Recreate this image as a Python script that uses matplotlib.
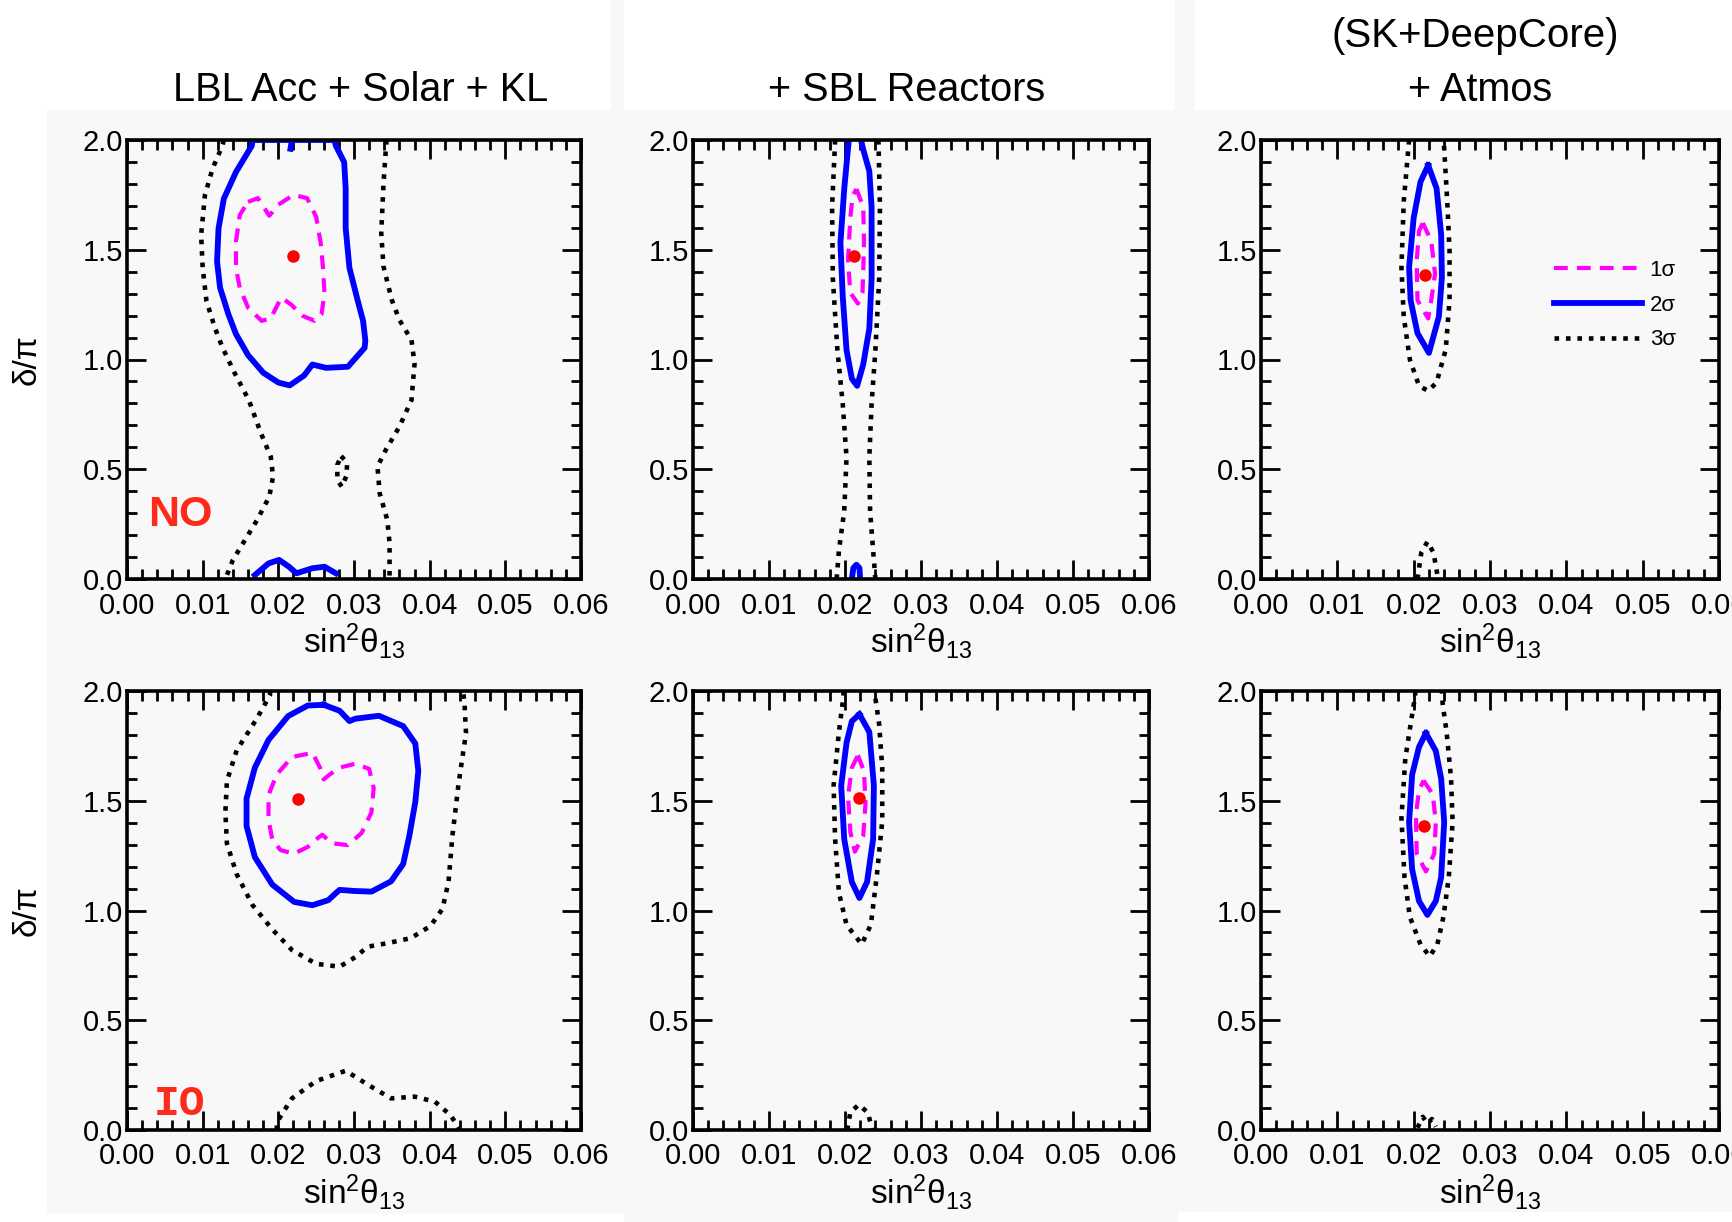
import matplotlib
matplotlib.use("Agg")
import matplotlib.pyplot as plt
from matplotlib.patches import Rectangle
from matplotlib.lines import Line2D
from matplotlib.ticker import MultipleLocator

plt.rcParams["font.family"] = ["Liberation Sans", "DejaVu Sans"]
plt.rcParams["mathtext.fontset"] = "custom"
plt.rcParams["mathtext.rm"] = "Liberation Sans"
plt.rcParams["mathtext.it"] = "Liberation Sans:italic"

# ---- text ----
col_titles = ["LBL Acc + Solar + KL", "+ SBL Reactors", "+ Atmos"]
atmos_note = "(SK+DeepCore)"
row_tags = ["NO", "IO"]
sigma_labels = ["1σ", "2σ", "3σ"]
x_ticks = [0.00, 0.01, 0.02, 0.03, 0.04, 0.05, 0.06]
y_ticks = [0.0, 0.5, 1.0, 1.5, 2.0]

# ---- contours: (sin^2 theta13, delta/pi) ----
# NO, LBL Acc + Solar + KL
no_lbl_best = (0.0219, 1.471)
no_lbl_1s = [(0.0160, 1.718), (0.0173, 1.735), (0.0188, 1.655), (0.0200, 1.705), (0.0220, 1.750),
             (0.0238, 1.735), (0.0250, 1.650), (0.0256, 1.530), (0.0259, 1.420), (0.0261, 1.300),
             (0.0257, 1.205), (0.0248, 1.176), (0.0232, 1.199), (0.0217, 1.250), (0.0204, 1.282),
             (0.0197, 1.236), (0.0190, 1.188), (0.0178, 1.176), (0.0160, 1.236), (0.0149, 1.327),
             (0.0144, 1.417), (0.0144, 1.538), (0.0149, 1.658)]
no_lbl_2s = [(0.0166, 2.0), (0.0165, 1.974), (0.0144, 1.854), (0.0128, 1.733), (0.0121, 1.598),
             (0.0119, 1.447), (0.0123, 1.327), (0.0134, 1.206), (0.0144, 1.116), (0.0160, 1.020),
             (0.0180, 0.940), (0.0200, 0.895), (0.0215, 0.882), (0.0234, 0.927), (0.0245, 0.977),
             (0.0263, 0.962), (0.0292, 0.967), (0.0314, 1.053), (0.0315, 1.086), (0.0312, 1.176),
             (0.0305, 1.267), (0.0294, 1.417), (0.0289, 1.598), (0.0289, 1.779), (0.0287, 1.899),
             (0.0276, 1.974), (0.0274, 2.0)]
no_lbl_2s_top = [(0.0216, 1.96), (0.0218, 2.0)]
no_lbl_2s_bot = [(0.0169, 0.018), (0.0187, 0.071), (0.0201, 0.087), (0.0214, 0.056), (0.0224, 0.026),
                 (0.0245, 0.049), (0.0261, 0.056), (0.0276, 0.026)]
no_lbl_3s_left = [(0.0128, 2.0), (0.0126, 1.974), (0.0113, 1.869), (0.0103, 1.749), (0.0098, 1.568),
                  (0.0100, 1.417), (0.0105, 1.267), (0.0116, 1.146), (0.0126, 1.056), (0.0142, 0.940),
                  (0.0161, 0.815), (0.0177, 0.664), (0.0190, 0.557), (0.0193, 0.466), (0.0188, 0.375),
                  (0.0172, 0.269), (0.0156, 0.178), (0.0140, 0.087), (0.0130, 0.0)]
no_lbl_3s_right = [(0.0343, 2.0), (0.0342, 1.954), (0.0339, 1.803), (0.0336, 1.575), (0.0339, 1.423),
                   (0.0350, 1.271), (0.0360, 1.180), (0.0376, 1.089), (0.0380, 0.980), (0.0378, 0.900),
                   (0.0376, 0.815), (0.0360, 0.694), (0.0342, 0.588), (0.0331, 0.512), (0.0334, 0.390),
                   (0.0344, 0.269), (0.0347, 0.163), (0.0347, 0.0)]
no_lbl_3s_island = [(0.0283, 0.56), (0.0291, 0.53), (0.0290, 0.47), (0.0284, 0.42), (0.0278, 0.45),
                    (0.0278, 0.52)]

# NO, + SBL Reactors
no_sbl_best = (0.0212, 1.472)
no_sbl_1s = [(0.0215, 1.777), (0.0224, 1.695), (0.0225, 1.532), (0.0224, 1.402), (0.0223, 1.304),
             (0.0217, 1.255), (0.0207, 1.304), (0.0204, 1.451), (0.0207, 1.646), (0.0210, 1.744)]
no_sbl_2s = [(0.0205, 2.0), (0.0199, 1.777), (0.0194, 1.532), (0.0197, 1.288), (0.0202, 1.043),
             (0.0209, 0.913), (0.0216, 0.880), (0.0224, 0.978), (0.0232, 1.141), (0.0235, 1.369),
             (0.0235, 1.695), (0.0232, 1.858), (0.0224, 1.956), (0.0221, 2.0)]
no_sbl_2s_bot = [(0.0209, 0.0), (0.0211, 0.05), (0.0215, 0.065), (0.0219, 0.05), (0.0220, 0.0)]
no_sbl_3s_left = [(0.0187, 2.0), (0.0183, 1.695), (0.0184, 1.369), (0.0190, 1.043), (0.0197, 0.799),
                  (0.0202, 0.554), (0.0199, 0.310), (0.0192, 0.130), (0.0189, 0.0)]
no_sbl_3s_right = [(0.0244, 2.0), (0.0246, 1.695), (0.0245, 1.369), (0.0240, 1.043), (0.0235, 0.799),
                   (0.0232, 0.554), (0.0233, 0.310), (0.0237, 0.130), (0.0240, 0.0)]

# NO, + Atmos
no_atm_best = (0.0215, 1.387)
no_atm_1s = [(0.0212, 1.622), (0.0223, 1.540), (0.0228, 1.390), (0.0223, 1.270), (0.0219, 1.187),
             (0.0205, 1.270), (0.0204, 1.450), (0.0207, 1.585)]
no_atm_2s = [(0.0219, 1.885), (0.0230, 1.780), (0.0236, 1.570), (0.0237, 1.375), (0.0233, 1.195),
             (0.0220, 1.030), (0.0205, 1.120), (0.0196, 1.270), (0.0194, 1.420), (0.0200, 1.645),
             (0.0209, 1.810)]
no_atm_3s = [(0.0194, 2.0), (0.0193, 1.96), (0.0187, 1.72), (0.0184, 1.42), (0.0187, 1.195),
             (0.0195, 1.0), (0.0207, 0.88), (0.0219, 0.857), (0.0230, 0.895), (0.0242, 1.045),
             (0.0247, 1.27), (0.0247, 1.495), (0.0244, 1.72), (0.0240, 1.96), (0.0239, 2.0)]
no_atm_3s_bot = [(0.0205, 0.0), (0.0210, 0.12), (0.0218, 0.17), (0.0226, 0.12), (0.0232, 0.0)]

# IO, LBL Acc + Solar + KL
io_lbl_best = (0.0226, 1.510)
io_lbl_1s = [(0.0239, 1.714), (0.0218, 1.699), (0.0198, 1.620), (0.0187, 1.526), (0.0187, 1.416),
             (0.0192, 1.322), (0.0203, 1.275), (0.0221, 1.259), (0.0239, 1.290), (0.0249, 1.322),
             (0.0258, 1.345), (0.0271, 1.306), (0.0292, 1.298), (0.0310, 1.353), (0.0323, 1.447),
             (0.0326, 1.557), (0.0320, 1.645), (0.0302, 1.669), (0.0281, 1.651), (0.0268, 1.620),
             (0.0260, 1.597), (0.0255, 1.651), (0.0247, 1.706)]
io_lbl_2s = [(0.0260, 1.937), (0.0281, 1.910), (0.0294, 1.863), (0.0302, 1.874), (0.0333, 1.887),
             (0.0365, 1.840), (0.0381, 1.761), (0.0385, 1.636), (0.0381, 1.494), (0.0373, 1.338),
             (0.0365, 1.212), (0.0349, 1.133), (0.0323, 1.086), (0.0300, 1.089), (0.0281, 1.094),
             (0.0276, 1.079), (0.0266, 1.047), (0.0245, 1.024), (0.0221, 1.039), (0.0192, 1.118),
             (0.0169, 1.243), (0.0158, 1.385), (0.0158, 1.510), (0.0169, 1.651), (0.0187, 1.777),
             (0.0213, 1.886), (0.0239, 1.934)]
io_lbl_3s = [(0.0189, 2.0), (0.0189, 1.981), (0.0171, 1.871), (0.0145, 1.730), (0.0132, 1.589),
             (0.0130, 1.447), (0.0132, 1.306), (0.0145, 1.165), (0.0166, 1.024), (0.0192, 0.914),
             (0.0218, 0.820), (0.0250, 0.757), (0.0281, 0.744), (0.0302, 0.788), (0.0318, 0.835),
             (0.0344, 0.851), (0.0375, 0.874), (0.0401, 0.929), (0.0417, 1.008), (0.0425, 1.133),
             (0.0430, 1.338), (0.0438, 1.573), (0.0448, 1.808), (0.0446, 1.949), (0.0444, 2.0)]
io_lbl_3s_bot = [(0.0198, 0.0), (0.0198, 0.035), (0.0218, 0.144), (0.0250, 0.223), (0.0289, 0.270),
                 (0.0318, 0.207), (0.0349, 0.144), (0.0380, 0.152), (0.0407, 0.129), (0.0428, 0.066),
                 (0.0440, 0.0)]

# IO, + SBL Reactors
io_sbl_best = (0.0219, 1.512)
io_sbl_1s = [(0.0217, 1.707), (0.0225, 1.634), (0.0227, 1.488), (0.0224, 1.341), (0.0213, 1.268),
             (0.0207, 1.358), (0.0204, 1.520), (0.0209, 1.650)]
io_sbl_2s = [(0.0219, 1.894), (0.0232, 1.813), (0.0238, 1.569), (0.0237, 1.325), (0.0229, 1.130),
             (0.0219, 1.057), (0.0209, 1.130), (0.0199, 1.325), (0.0195, 1.569), (0.0202, 1.764),
             (0.0209, 1.862)]
io_sbl_3s = [(0.0198, 2.0), (0.0198, 1.976), (0.0192, 1.813), (0.0185, 1.569), (0.0187, 1.325),
             (0.0192, 1.081), (0.0202, 0.935), (0.0222, 0.846), (0.0234, 0.935), (0.0242, 1.163),
             (0.0249, 1.407), (0.0249, 1.650), (0.0245, 1.846), (0.0240, 1.967), (0.0240, 2.0)]
io_sbl_3s_bot = [(0.0203, 0.0), (0.0207, 0.08), (0.0218, 0.115), (0.0230, 0.08), (0.0236, 0.0)]

# IO, + Atmos
io_atm_best = (0.0213, 1.385)
io_atm_1s = [(0.0213, 1.592), (0.0225, 1.529), (0.0229, 1.403), (0.0227, 1.259), (0.0216, 1.178),
             (0.0204, 1.259), (0.0203, 1.439), (0.0207, 1.547)]
io_atm_2s = [(0.0216, 1.808), (0.0229, 1.727), (0.0236, 1.601), (0.0240, 1.403), (0.0236, 1.151),
             (0.0229, 1.043), (0.0218, 0.980), (0.0207, 1.043), (0.0198, 1.187), (0.0194, 1.403),
             (0.0198, 1.619), (0.0207, 1.745)]
io_atm_3s = [(0.0202, 2.0), (0.0202, 1.978), (0.0197, 1.871), (0.0189, 1.691), (0.0184, 1.421),
             (0.0188, 1.151), (0.0195, 0.971), (0.0209, 0.845), (0.0221, 0.791), (0.0231, 0.845),
             (0.0239, 0.971), (0.0246, 1.151), (0.0251, 1.403), (0.0249, 1.601), (0.0243, 1.817),
             (0.0238, 1.942), (0.0237, 2.0)]
io_atm_3s_bot = [(0.0205, 0.01), (0.0212, 0.06), (0.0218, 0.03), (0.0224, 0.05), (0.0229, 0.015)]

# best fit, then (closed, open) curves for 1, 2 and 3 sigma, row by row
panels = [
    [no_lbl_best, [no_lbl_1s], [], [no_lbl_2s], [no_lbl_2s_top, no_lbl_2s_bot],
     [no_lbl_3s_island], [no_lbl_3s_left, no_lbl_3s_right]],
    [no_sbl_best, [no_sbl_1s], [], [], [no_sbl_2s, no_sbl_2s_bot],
     [], [no_sbl_3s_left, no_sbl_3s_right]],
    [no_atm_best, [no_atm_1s], [], [no_atm_2s], [],
     [], [no_atm_3s, no_atm_3s_bot]],
    [io_lbl_best, [io_lbl_1s], [], [io_lbl_2s], [],
     [], [io_lbl_3s, io_lbl_3s_bot]],
    [io_sbl_best, [io_sbl_1s], [], [io_sbl_2s], [],
     [], [io_sbl_3s, io_sbl_3s_bot]],
    [io_atm_best, [io_atm_1s], [], [io_atm_2s], [],
     [], [io_atm_3s, io_atm_3s_bot]],
]

BG = "#f8f8f8"
styles = {
    1: dict(color="#ff00ff", lw=3.0, linestyle=(0, (3.3, 2.2))),
    2: dict(color="#0000ff", lw=4.2, linestyle="-"),
    3: dict(color="black", lw=3.3, linestyle=(0, (1, 1.5))),
}


def draw(ax, pts, closed, st):
    xs = [p[0] for p in pts]
    ys = [p[1] for p in pts]
    if closed:
        xs.append(xs[0])
        ys.append(ys[0])
    ax.plot(xs, ys, **st)


fig = plt.figure(figsize=(17.32, 12.22), dpi=100, facecolor=BG)

# white title strips / margins of the slide (behind everything)
for (x0, y0, w, h) in [(0, 1112, 611, 110), (624, 1112, 551, 110), (1195, 1112, 537, 110),
                       (0, 0, 47, 1112), (0, 0, 624, 8), (1178, 0, 554, 10)]:
    fig.patches.append(Rectangle((x0 / 1732, y0 / 1222), w / 1732, h / 1222,
                                 transform=fig.transFigure, facecolor="white",
                                 edgecolor="none", zorder=-5))

lefts = [127, 693, 1261]
widths = [454, 456, 458]
tops = [140, 691]
height = 439
title_x = [0.515, 0.469, 0.478]

for k, p in enumerate(panels):
    r, c = divmod(k, 3)
    ax = fig.add_axes([lefts[c] / 1732, 1 - (tops[r] + height) / 1222,
                       widths[c] / 1732, height / 1222])
    ax.set_facecolor(BG)
    best, l1c, l1o, l2c, l2o, l3c, l3o = p
    for pts in l3c:
        draw(ax, pts, True, styles[3])
    for pts in l3o:
        draw(ax, pts, False, styles[3])
    for pts in l2c:
        draw(ax, pts, True, styles[2])
    for pts in l2o:
        draw(ax, pts, False, styles[2])
    for pts in l1c:
        draw(ax, pts, True, styles[1])
    for pts in l1o:
        draw(ax, pts, False, styles[1])
    ax.plot([best[0]], [best[1]], "o", color="red", ms=8, zorder=5)

    ax.set_xlim(0, 0.06)
    ax.set_ylim(0, 2.0)
    ax.set_xticks(x_ticks)
    ax.set_xticklabels(["%.2f" % v for v in x_ticks])
    ax.set_yticks(y_ticks)
    ax.set_yticklabels(["%.1f" % v for v in y_ticks])
    ax.xaxis.set_minor_locator(MultipleLocator(0.002))
    ax.yaxis.set_minor_locator(MultipleLocator(0.1))
    ax.tick_params(which="both", direction="in", top=True, right=True, width=2.0,
                   labelsize=21, colors="black")
    ax.tick_params(which="major", length=13.5)
    ax.tick_params(which="minor", length=7)
    ax.tick_params(axis="x", which="major", pad=9)
    ax.tick_params(axis="y", which="major", pad=3)
    for s in ax.spines.values():
        s.set_linewidth(2.6)

    ax.set_xlabel(r"sin$^{2}\mathrm{\theta}_{13}$", fontsize=24)
    ax.xaxis.set_label_coords(0.5, -0.095)
    if c == 0:
        ax.set_ylabel("δ/π", fontsize=24)
        ax.yaxis.set_label_coords(-0.185, 0.5)
        if r == 0:
            ax.text(0.0070, 0.29, row_tags[r], color="#ff2a1a", fontsize=31,
                    fontweight="bold", ha="center", va="center")
        else:
            ax.text(0.0069, 0.12, row_tags[r], color="#ff2a1a", fontsize=31,
                    family="Liberation Mono", fontweight="bold", ha="center", va="center")

    if r == 0:
        ax.text(title_x[c], 1.113, col_titles[c], transform=ax.transAxes, fontsize=28.5,
                ha="center", va="center")
        if c == 2:
            ax.text(0.467, 1.237, atmos_note, transform=ax.transAxes, fontsize=29,
                    ha="center", va="center")
            handles = [Line2D([], [], **styles[i]) for i in (1, 2, 3)]
            ax.legend(handles, sigma_labels, loc="upper left", bbox_to_anchor=(0.64, 0.727),
                      frameon=False, fontsize=16, handlelength=3.95, handletextpad=0.35,
                      labelspacing=0.62, borderpad=0, borderaxespad=0)

fig.savefig("out.png", dpi=100, facecolor=BG)
